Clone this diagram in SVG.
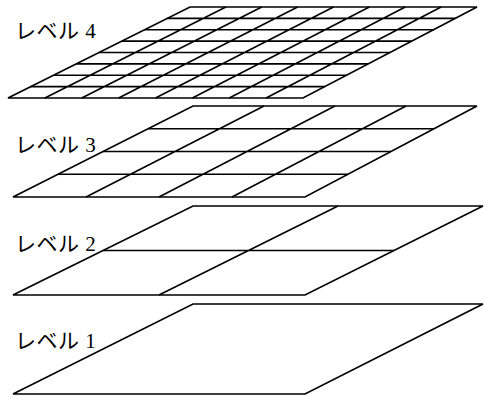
<svg xmlns="http://www.w3.org/2000/svg" width="485" height="397" viewBox="0 0 485 397">
<style>
.p{fill:none;stroke:#000;stroke-width:1.7;stroke-linejoin:miter}
.g{fill:none;stroke:#000;stroke-width:1.6}
.t{font-family:"Liberation Serif","Noto Sans CJK JP",serif;font-size:21px;fill:#000;letter-spacing:0.5px}
</style>
<rect width="485" height="397" fill="#fff"/>
<g id="level4">
<text class="t" x="15" y="38">レベル 4</text>
<path class="g" d="M167.25,18.375H455.25M144.5,29.75H433.5M121.75,41.125H411.75M99,52.5H390M76.25,63.875H368.25M53.5,75.25H346.5M30.75,86.625H324.75M225.875,7L44.875,98M261.75,7L81.75,98M297.625,7L118.625,98M333.5,7L155.5,98M369.375,7L192.375,98M405.25,7L229.25,98M441.125,7L266.125,98"/>
<polygon class="p" points="190,7 477,7 303,98 8,98"/>
</g>
<g id="level3">
<text class="t" x="15" y="152">レベル 3</text>
<path class="g" d="M148,128.75H434M103,151.5H391M58,174.25H348M264,106L86,197M335,106L159,197M406,106L232,197"/>
<polygon class="p" points="193,106 477,106 305,197 13,197"/>
</g>
<g id="level2">
<text class="t" x="15" y="251">レベル 2</text>
<path class="g" d="M103,250.5H394M338,206L159,295"/>
<polygon class="p" points="193,206 483,206 305,295 13,295"/>
</g>
<g id="level1">
<text class="t" x="15" y="348">レベル 1</text>
<polygon class="p" points="193,304 483,304 305,394 13,394"/>
</g>
</svg>
